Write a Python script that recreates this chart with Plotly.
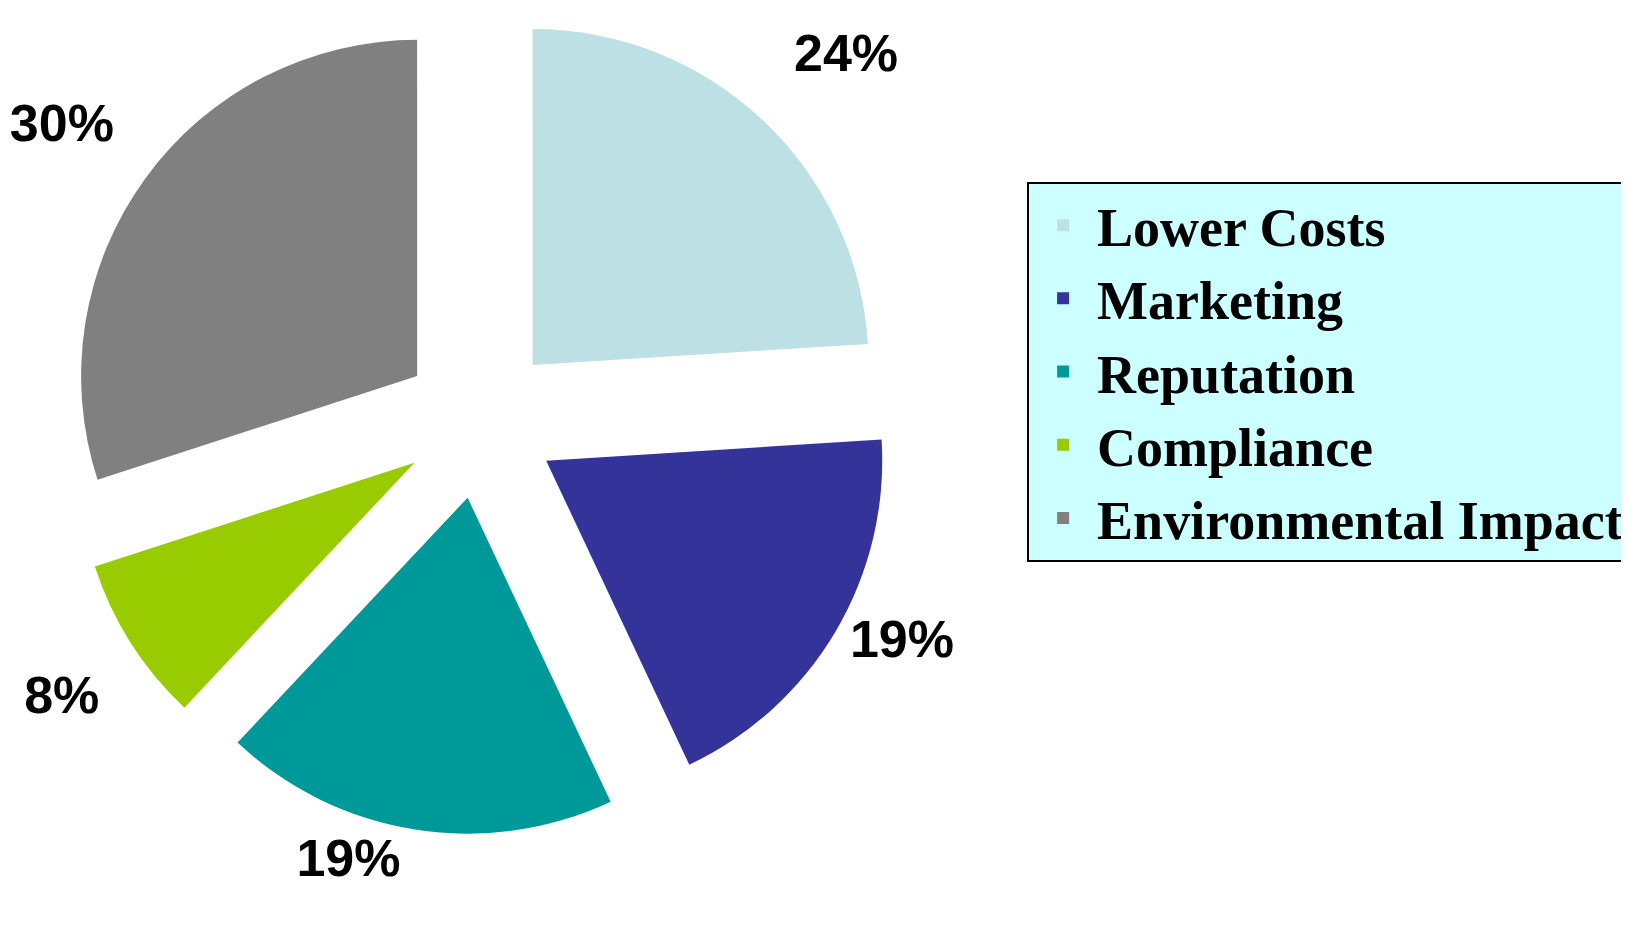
import plotly.graph_objects as go

categories = ["Lower Costs", "Marketing", "Reputation", "Compliance", "Environmental Impact"]
values = [24, 19, 19, 8, 30]
colors = ["#BCE0E4", "#333399", "#009999", "#99CC00", "#808080"]
# label layout per slice: the percentage line, padded with an empty line where the
# reference places the label further out from the pie
label_templates = [
    "%{percent:.0%}<br>\u00a0",
    "%{percent:.0%}",
    "%{percent:.0%}",
    "\u00a0<br>%{percent:.0%}",
    "%{percent:.0%}<br>\u00a0",
]

W, H = 1629, 926
pull = 0.23

fig = go.Figure(
    go.Pie(
        labels=categories,
        values=values,
        sort=False,
        direction="clockwise",
        rotation=0,
        pull=[pull] * len(values),
        marker=dict(colors=colors, line=dict(width=0)),
        texttemplate=label_templates,
        textposition="outside",
        textfont=dict(family="Liberation Sans Narrow, Arial Narrow, Liberation Sans, Arial",
                      size=52, color="black", weight="bold"),
        domain=dict(x=[0.0317, 0.5474], y=[0.1073, 1.0]),
        hoverinfo="label+percent",
    )
)

fig.update_layout(
    width=W,
    height=H,
    margin=dict(l=0, r=0, t=0, b=0, autoexpand=False),
    paper_bgcolor="white",
    plot_bgcolor="white",
    showlegend=True,
    legend=dict(
        x=0.6256,
        y=0.8126,
        xanchor="left",
        yanchor="top",
        bgcolor="#CCFFFF",
        bordercolor="black",
        borderwidth=2,
        itemwidth=58,
        font=dict(family="Liberation Serif, Times New Roman, serif", size=54,
                  color="black", weight="bold"),
    ),
)

fig.write_html("out.html")
